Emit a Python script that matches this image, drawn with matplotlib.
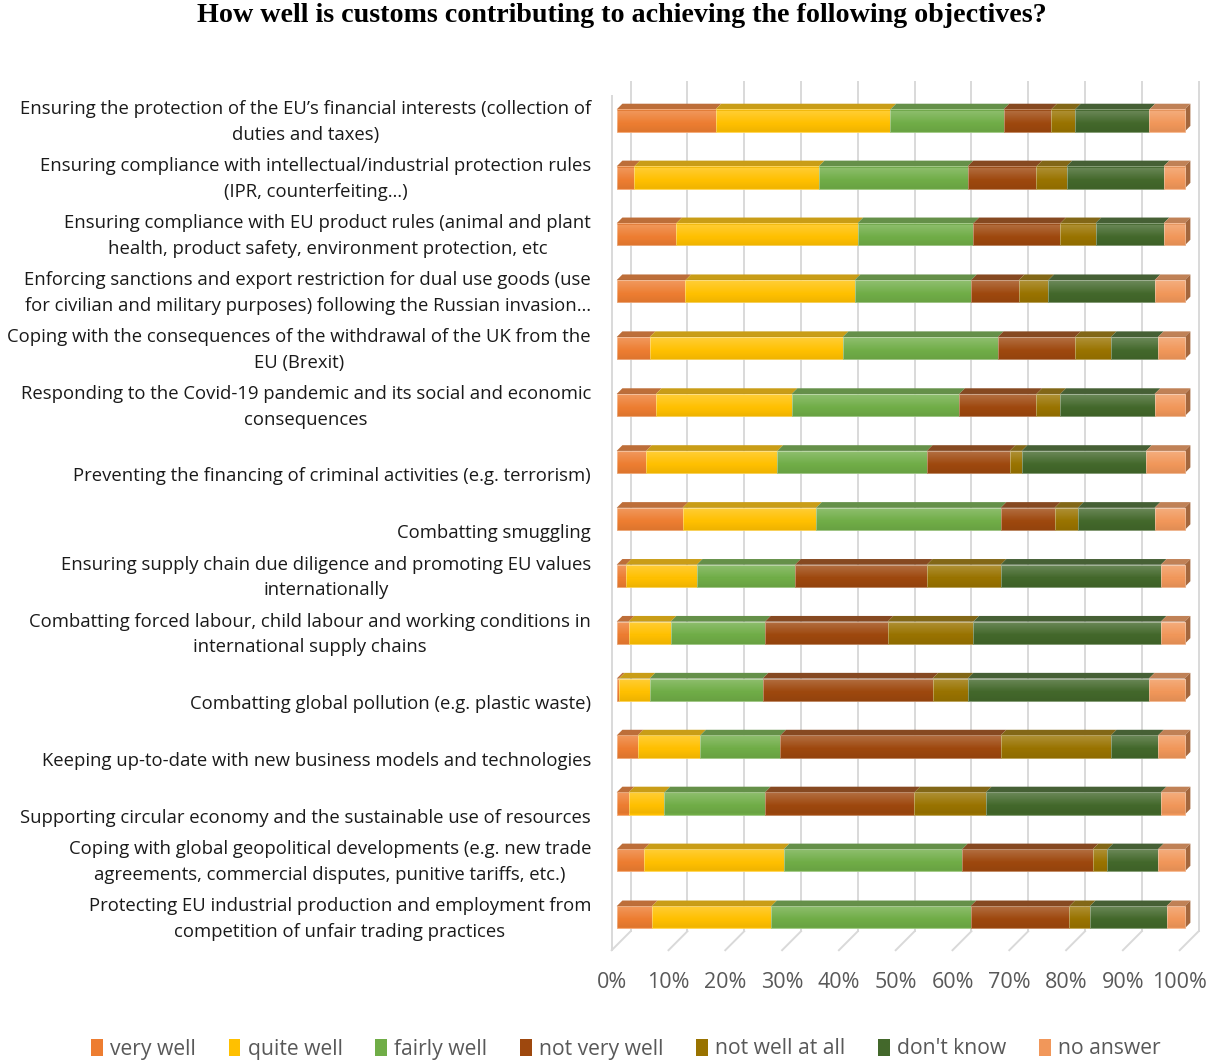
import numpy as np
import matplotlib
matplotlib.use("Agg")
import matplotlib.pyplot as plt
from matplotlib.patches import Polygon, Patch
from matplotlib.colors import to_rgb

categories = [
    "Ensuring the protection of the EU\u2019s financial interests (collection of\nduties and taxes)",
    "Ensuring compliance with intellectual/industrial protection rules\n(IPR, counterfeiting\u2026)",
    "Ensuring compliance with EU product rules (animal and plant\nhealth, product safety, environment protection, etc",
    "Enforcing sanctions and export restriction for dual use goods (use\nfor civilian and military purposes) following the Russian invasion\u2026",
    "Coping with the consequences of the withdrawal of the UK from the\nEU (Brexit)",
    "Responding to the Covid-19 pandemic and its social and economic\nconsequences",
    "Preventing the financing of criminal activities (e.g. terrorism)",
    "Combatting smuggling",
    "Ensuring supply chain due diligence and promoting EU values\ninternationally",
    "Combatting forced labour, child labour and working conditions in\ninternational supply chains",
    "Combatting global pollution (e.g. plastic waste)",
    "Keeping up-to-date with new business models and technologies",
    "Supporting circular economy and the sustainable use of resources",
    "Coping with global geopolitical developments (e.g. new trade\nagreements, commercial disputes, punitive tariffs, etc.)",
    "Protecting EU industrial production and employment from\ncompetition of unfair trading practices",
]

series_names = ["very well", "quite well", "fairly well", "not very well",
                "not well at all", "don't know", "no answer"]

very_well = [17.4, 3.1, 10.5, 12.1, 5.8, 6.9, 5.2, 11.6, 1.6, 2.1, 0.4, 3.7, 2.1, 4.8, 6.2]
quite_well = [30.8, 32.5, 31.9, 29.8, 34.0, 23.9, 23.1, 23.5, 12.5, 7.4, 5.4, 11.0, 6.3, 24.6, 21.0]
fairly_well = [19.9, 26.2, 20.4, 20.5, 27.3, 29.5, 26.3, 32.5, 17.3, 16.6, 19.9, 14.1, 17.7, 31.4, 35.1]
not_very_well = [8.4, 12.1, 15.3, 8.4, 13.6, 13.6, 14.6, 9.5, 23.2, 21.6, 29.9, 38.8, 26.3, 23.0, 17.4]
not_well_at_all = [4.2, 5.3, 6.2, 5.2, 6.3, 4.2, 2.1, 4.1, 13.0, 15.1, 6.2, 19.4, 12.6, 2.6, 3.6]
dont_know = [13.1, 17.1, 12.0, 18.7, 8.3, 16.6, 21.9, 13.5, 28.2, 33.0, 31.9, 8.3, 30.8, 8.9, 13.5]
no_answer = [6.2, 3.7, 3.7, 5.3, 4.7, 5.3, 6.8, 5.3, 4.2, 4.2, 6.3, 4.7, 4.2, 4.7, 3.2]

colors = ["#ED7D31", "#FFC000", "#70AD47", "#9E480E", "#997300", "#43682B", "#F1975A"]

plt.rcParams["font.family"] = ["Open Sans", "DejaVu Sans"]

# 100% stacked
data = np.array([very_well, quite_well, fairly_well, not_very_well,
                 not_well_at_all, dont_know, no_answer], dtype=float)
data = data / data.sum(axis=0) * 100
n = len(categories)
ypos = np.arange(n)


def blend(c, other, t):
    c = np.array(to_rgb(c))
    return tuple(c * (1 - t) + np.array(other) * t)


fig = plt.figure(figsize=(12.06, 10.63), dpi=100)
ax = fig.add_axes([600 / 1206, 1 - 960 / 1063, 606 / 1206, 900 / 1063])
ax.axis("off")

# fake 3d: depth offsets in data units
BAR_DX, BAR_DY = 1.0, -0.1
FRONT_DX, FRONT_DY = -0.88, 0.088
BACK_DX, BACK_DY = 2.46, -0.246
FLOOR = 14.49
H = 0.39
grid_c = "#D9D9D9"

ticks = np.arange(0, 101, 10)
for p in ticks:
    ax.plot([p + BACK_DX, p + BACK_DX], [-0.677, FLOOR + BACK_DY], color=grid_c, lw=1.4, zorder=1)
    ax.plot([p + BACK_DX, p + FRONT_DX], [FLOOR + BACK_DY, FLOOR + FRONT_DY], color=grid_c, lw=1.4, zorder=1)
    ax.text(p + FRONT_DX, 15.15, f"{p}%", ha="center", va="center", fontsize=15.5, color="#595959")
ax.plot([FRONT_DX, FRONT_DX], [-0.43, FLOOR + FRONT_DY], color=grid_c, lw=1.4, zorder=1)

lefts = np.zeros(n)
for k in range(len(series_names)):
    vals = data[k]
    c = colors[k]
    ax.barh(ypos, vals, left=lefts, height=H, color=c,
            edgecolor=blend(c, (1, 1, 1), 0.35), linewidth=0.6, zorder=3)
    top_c = blend(c, (0.3, 0.3, 0.3), 0.3)
    for i in range(n):
        l, w, y = lefts[i], vals[i], ypos[i] - H / 2
        ax.add_patch(Polygon([(l, y), (l + w, y), (l + w + BAR_DX, y + BAR_DY), (l + BAR_DX, y + BAR_DY)],
                             closed=True, facecolor=top_c, edgecolor="none", zorder=2))
    lefts = lefts + vals

side_c = blend(colors[-1], (0, 0, 0), 0.32)
for i in range(n):
    x, y0, y1 = lefts[i], ypos[i] - H / 2, ypos[i] + H / 2
    ax.add_patch(Polygon([(x, y0), (x, y1), (x + BAR_DX, y1 + BAR_DY), (x + BAR_DX, y0 + BAR_DY)],
                         closed=True, facecolor=side_c, edgecolor="none", zorder=2))

# soft vertical shading on the bar fronts (lighter at top)
rows = 600
yy = np.linspace(-0.5, n - 0.5, rows)
frac = (yy - np.round(yy)) / H + 0.5  # 0 at top of face, 1 at bottom
inside = (frac >= 0) & (frac <= 1)
shade = np.zeros((rows, 2, 4))
white = inside & (frac < 0.6)
dark = inside & (frac >= 0.6)
shade[white, :, :3] = 1.0
shade[white, :, 3] = (0.22 * (1 - frac[white] / 0.6))[:, None]
shade[dark, :, 3] = (0.07 * (frac[dark] - 0.6) / 0.4)[:, None]
ax.imshow(shade, extent=(0, 100, n - 0.5, -0.5), aspect="auto", zorder=4, interpolation="bilinear")
ax.set_xlim(-2.94, 103.75)
ax.set_ylim(14.75, -1.063)

for i, lab in enumerate(categories):
    shift = 0.03 if "\n" in lab else 0.25
    ax.text(-4.52, i + shift, lab, ha="right", va="center", multialignment="center",
            fontsize=13.3, linespacing=1.54, color="#1a1a1a")

fig.text(0.516, 1 - 16 / 1063, "How well is customs contributing to achieving the following objectives?",
         ha="center", va="center", fontfamily="Liberation Serif", fontweight="bold", fontsize=20.2)

handles = [Patch(facecolor=c, label=s) for c, s in zip(colors, series_names)]
fig.legend(handles=handles, loc="center", bbox_to_anchor=(0.519, 1 - 1049 / 1063), ncol=7,
           frameon=False, fontsize=15.2, handlelength=0.55, handleheight=0.85, handletextpad=0.35,
           columnspacing=1.55, labelcolor="#595959")

fig.savefig("out.png", dpi=100)
